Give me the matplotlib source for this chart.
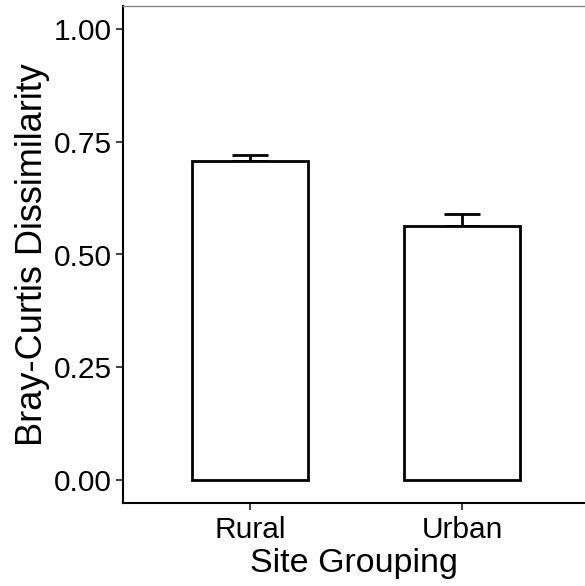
import matplotlib.pyplot as plt
import numpy as np

plt.rcParams['font.family'] = ['Liberation Sans', 'DejaVu Sans']

groups = ["Rural", "Urban"]
means = np.array([0.707, 0.562])
upper_err = np.array([0.014, 0.027])

fig = plt.figure(figsize=(5.85, 5.86), dpi=100)
ax = fig.add_axes([123/585, 83/586, 462/585, 497/586])

x = np.arange(1, len(groups) + 1)
ax.errorbar(x, means, yerr=[np.zeros_like(upper_err), upper_err], fmt='none',
            ecolor='black', elinewidth=2, capsize=13, capthick=2, zorder=1)
ax.bar(x, means, width=0.55, color='white', edgecolor='black', linewidth=2, zorder=2)

ax.set_xlim(0.4, 2.58)
ax.set_ylim(-0.05, 1.05)
ax.set_xticks(x)
ax.set_xticklabels(groups)
ax.set_yticks([0, 0.25, 0.5, 0.75, 1.0])
ax.set_yticklabels(["0.00", "0.25", "0.50", "0.75", "1.00"])

ax.tick_params(axis='both', labelsize=21.5, length=5, width=1.3, color='#333333', pad=3)
ax.tick_params(axis='x', pad=4)
for s in ['left', 'bottom']:
    ax.spines[s].set_linewidth(1.5)
ax.spines['right'].set_visible(False)
ax.spines['top'].set_color('#888888')
ax.spines['top'].set_linewidth(1)

ax.set_xlabel("Site Grouping", fontsize=24.5, labelpad=3)
ax.set_ylabel("Bray-Curtis Dissimilarity", fontsize=26, labelpad=3)

fig.savefig("out.png", dpi=100)
